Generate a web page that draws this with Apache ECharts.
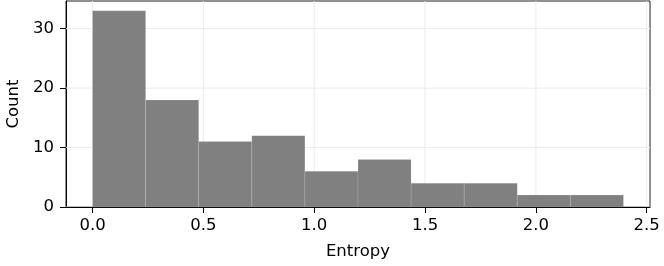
<!DOCTYPE html>
<html><head><meta charset="utf-8">
<script src="https://cdn.jsdelivr.net/npm/echarts@6/dist/echarts.min.js"></script>
<style>html,body{margin:0;padding:0;background:#fff}#c{width:664px;height:266px}</style>
</head><body><div id="c"></div>
<script>
const binEdges = [0.0, 0.2395, 0.479, 0.7185, 0.958, 1.1975, 1.437, 1.6765, 1.916, 2.1555, 2.395];
const counts = [33, 18, 11, 12, 6, 8, 4, 4, 2, 2];
const xTicks = [0.0, 0.5, 1.0, 1.5, 2.0, 2.5];
const yTicks = [0, 10, 20, 30];
const xLabel = 'Entropy';
const yLabel = 'Count';

const xMin = -0.11975, xMax = 2.51475, yMax = 34.65;
const font = 'DejaVu Sans';
const bins = counts.map((c, i) => [binEdges[i], binEdges[i + 1], c]);
const gridData = xTicks.map(v => ['x', v]).concat(yTicks.map(v => ['y', v]));

const chart = echarts.init(document.getElementById('c'), null, {renderer: 'canvas'});
chart.setOption({
  animation: false,
  grid: {left: 66, right: 14, top: 1, bottom: 59, show: true, borderColor: '#222', borderWidth: 1,
    backgroundColor: 'transparent', containLabel: false, outerBoundsMode: 'none'},
  xAxis: {
    type: 'value', min: xMin, max: xMax,
    name: xLabel, nameLocation: 'middle', nameGap: 36,
    nameTextStyle: {fontFamily: font, fontSize: 16.5, color: '#000'},
    axisLine: {show: true, onZero: false, lineStyle: {color: '#000', width: 1}},
    axisTick: {show: true, length: 6, lineStyle: {color: '#000'}, customValues: xTicks},
    axisLabel: {fontFamily: font, fontSize: 16.5, color: '#000', margin: 10, customValues: xTicks,
      formatter: v => v.toFixed(1)},
    splitLine: {show: false}
  },
  yAxis: {
    type: 'value', min: 0, max: yMax,
    name: yLabel, nameLocation: 'middle', nameGap: 44,
    nameTextStyle: {fontFamily: font, fontSize: 16.5, color: '#000'},
    axisLine: {show: true, onZero: false, lineStyle: {color: '#000', width: 1}},
    axisTick: {show: true, length: 6, lineStyle: {color: '#000'}, customValues: yTicks},
    axisLabel: {fontFamily: font, fontSize: 16.5, color: '#000', margin: 12, customValues: yTicks,
      formatter: v => String(v)},
    splitLine: {show: false}
  },
  series: [
    {
      type: 'custom', z: 1, silent: true, clip: true,
      data: gridData,
      renderItem: function (params, api) {
        const d = gridData[params.dataIndex];
        let a, b;
        if (d[0] === 'x') { a = api.coord([d[1], 0]); b = api.coord([d[1], yMax]); }
        else { a = api.coord([xMin, d[1]]); b = api.coord([xMax, d[1]]); }
        return {type: 'line', shape: {x1: a[0], y1: a[1], x2: b[0], y2: b[1]},
          style: {stroke: '#ebebeb', lineWidth: 1}};
      }
    },
    {
      type: 'custom', z: 2, silent: true,
      data: bins,
      renderItem: function (params, api) {
        const p0 = api.coord([api.value(0), 0]);
        const p1 = api.coord([api.value(1), api.value(2)]);
        return {
          type: 'rect',
          shape: {x: p0[0], y: p1[1], width: p1[0] - p0[0], height: p0[1] - p1[1]},
          style: {fill: '#808080', stroke: 'rgba(255,255,255,0.12)', lineWidth: 1}
        };
      }
    }
  ]
});
</script></body></html>
